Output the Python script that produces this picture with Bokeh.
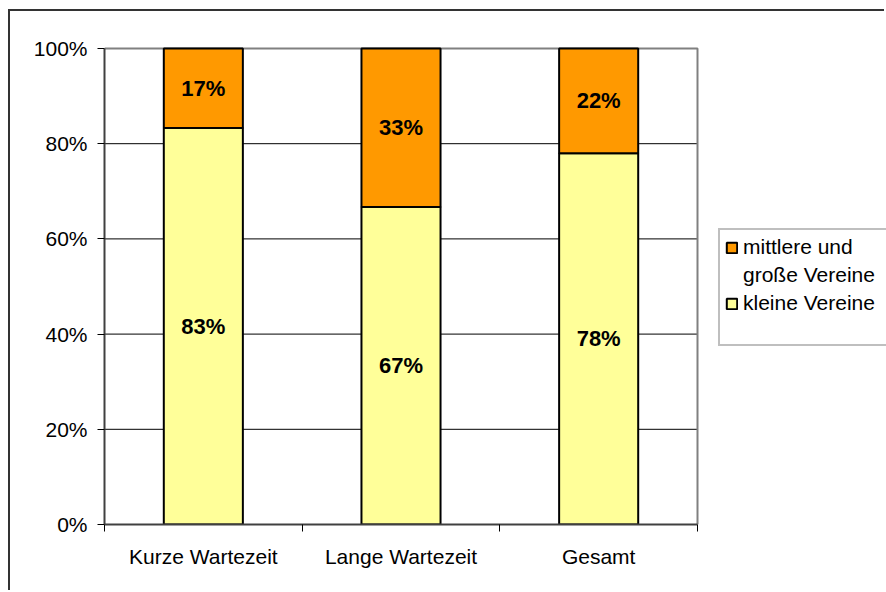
import numpy as np
from bokeh.plotting import figure
from bokeh.models import (ColumnDataSource, Range1d, FixedTicker, PrintfTickFormatter,
                          Legend, LegendItem)
from bokeh.core.properties import value
from bokeh.embed import file_html
from bokeh.resources import INLINE

categories = ["Kurze Wartezeit", "Lange Wartezeit", "Gesamt"]
small_clubs = [83.3, 66.7, 78.0]
large_clubs = [16.7, 33.3, 22.0]
large_name_lines = ["mittlere und", "große Vereine"]
small_name = "kleine Vereine"
y_ticks = [0, 20, 40, 60, 80, 100]

FONT = "Liberation Sans"
FS = "21px"

n = len(categories)
x = np.arange(n) + 0.5
small = np.array(small_clubs)
large = np.array(large_clubs)
y_top = y_ticks[-1]

src = ColumnDataSource(dict(
    x=x, small=small, top_all=small + large,
    small_mid=small / 2, large_mid=small + large / 2,
    small_lbl=[f"{v:.0f}%" for v in small],
    large_lbl=[f"{v:.0f}%" for v in large],
))

# plot-area (category part) is 593 px wide; frame continues to the right for the legend
frame_w = 876 - 94
px_per_cat = 593 / n
p = figure(width=876, height=581, output_backend="svg", toolbar_location=None,
           x_range=Range1d(0, frame_w / px_per_cat), y_range=Range1d(0, y_top * 1.0042),
           min_border_left=94, min_border_right=0, min_border_top=35,
           min_border_bottom=68)
p.styles = {"border-left": "2px solid #333333", "border-top": "2px solid #333333",
            "margin-left": "8px", "margin-top": "9px"}
p.outline_line_color = None
p.background_fill_color = "white"

# horizontal grid lines (only across the category area)
grid_y = y_ticks[1:-1]
p.segment(x0=[0] * len(grid_y), x1=[n] * len(grid_y), y0=grid_y, y1=grid_y,
          line_color="black", line_width=1)
# plot-area border (top and right)
p.line(x=[0, n, n], y=[y_top, y_top, 0], line_color="#808080", line_width=2)

r_small = p.vbar(x="x", bottom=0, top="small", width=0.4, source=src,
                 fill_color="#FFFF99", line_color="black", line_width=2)
r_large = p.vbar(x="x", bottom="small", top="top_all", width=0.4, source=src,
                 fill_color="#FF9900", line_color="black", line_width=2)

for ycol, tcol in (("small_mid", "small_lbl"), ("large_mid", "large_lbl")):
    p.text(x="x", y=ycol, text=tcol, source=src, text_align="center",
           text_baseline="middle", text_font=value(FONT), text_font_size="22px",
           text_font_style="bold", text_color="black")

# y axis
p.yaxis.ticker = FixedTicker(ticks=y_ticks)
p.yaxis.formatter = PrintfTickFormatter(format="%d%%")
p.yaxis.bounds = (0, y_top)
p.yaxis.axis_line_color = "#404040"
p.yaxis.axis_line_width = 2
p.yaxis.major_tick_in = 0
p.yaxis.major_tick_out = 7
p.yaxis.major_tick_line_color = "black"
p.yaxis.minor_tick_line_color = None
p.yaxis.major_label_standoff = 10
p.yaxis.major_label_text_font = FONT
p.yaxis.major_label_text_font_size = FS
p.yaxis.major_label_text_color = "black"

# x axis: labels at centres, ticks at category boundaries
p.xaxis.ticker = FixedTicker(ticks=list(x), minor_ticks=list(range(n + 1)))
p.xaxis.major_label_overrides = {float(xx): c for xx, c in zip(x, categories)}
p.xaxis.bounds = (0, n)
p.xaxis.axis_line_color = "#404040"
p.xaxis.axis_line_width = 2
p.xaxis.major_tick_line_color = None
p.xaxis.minor_tick_in = 0
p.xaxis.minor_tick_out = 7
p.xaxis.minor_tick_line_color = "black"
p.xaxis.major_label_standoff = 13
p.xaxis.major_label_text_font = FONT
p.xaxis.major_label_text_font_size = FS
p.xaxis.major_label_text_color = "black"

p.xgrid.grid_line_color = None
p.ygrid.grid_line_color = None

legend = Legend(items=[LegendItem(label=large_name_lines[0], renderers=[r_large]),
                       LegendItem(label=large_name_lines[1], renderers=[]),
                       LegendItem(label=small_name, renderers=[r_small])],
                location=(614, 178), orientation="vertical",
                border_line_color="#808080", border_line_width=2,
                background_fill_color="white", background_fill_alpha=1,
                label_text_font=FONT, label_text_font_size=FS,
                label_text_color="black", glyph_width=13, glyph_height=13,
                label_standoff=5, padding=5, spacing=4, margin=0,
                label_width=160, label_text_line_height=1.2,
                title=" ", title_location="below", title_text_font_size="16px",
                title_standoff=6)
p.add_layout(legend, "center")

open("out.html", "w").write(file_html(p, INLINE))
